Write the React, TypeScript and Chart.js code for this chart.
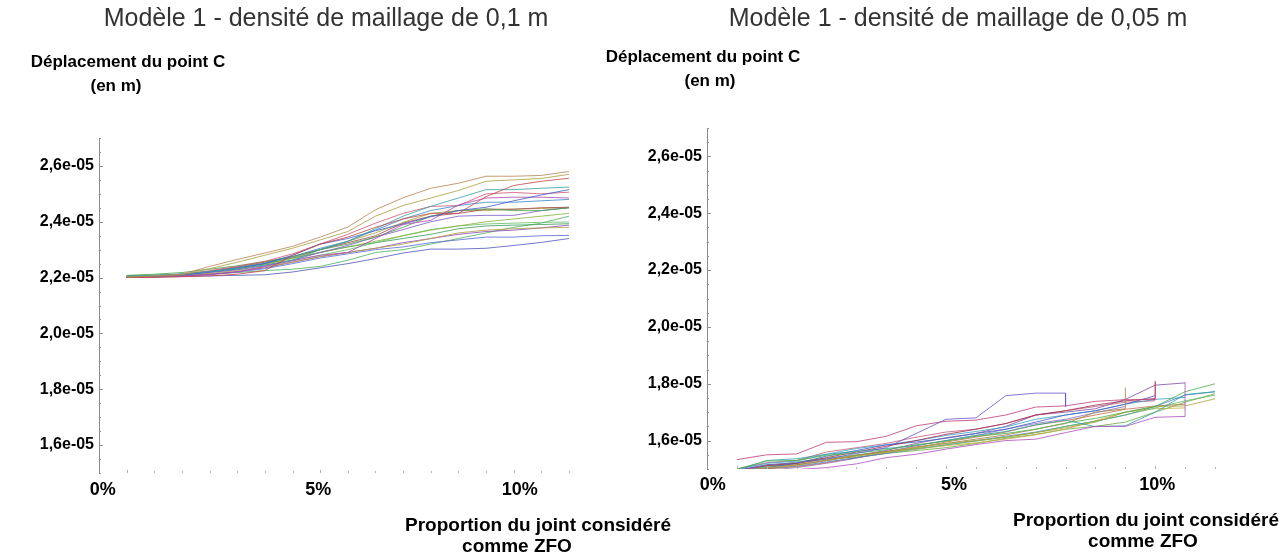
import React, { useEffect, useRef } from 'react';
import { Chart, registerables } from 'chart.js';

Chart.register(...registerables);

// ---------- shared axis data ----------
const X_PERCENT = [0, 0.714, 1.429, 2.143, 2.857, 3.571, 4.286, 5.0, 5.714, 6.429, 7.143, 7.857, 8.571, 9.286, 10.0, 10.714, 11.429];
const X_TICK_VALUES = [0, 5, 10];
const X_TICK_LABELS = ['0%', '5%', '10%'];
const Y_TICK_VALUES = [1.6e-5, 1.8e-5, 2.0e-5, 2.2e-5, 2.4e-5, 2.6e-5];
const Y_TICK_LABELS = ['1,6e-05', '1,8e-05', '2,0e-05', '2,2e-05', '2,4e-05', '2,6e-05'];
const UNIT = 1e-5; // series values below are expressed in units of 1e-5 m

const TITLE_LEFT = 'Modèle 1 - densité de maillage de 0,1 m';
const TITLE_RIGHT = 'Modèle 1 - densité de maillage de 0,05 m';
const Y_TITLE = ['Déplacement du point C', '(en m)'];
const X_TITLE = ['Proportion du joint considéré', 'comme ZFO'];

// ---------- left chart: mesh 0.1 m ----------
const L01 = [2.202, 2.206, 2.212, 2.240, 2.265, 2.288, 2.312, 2.345, 2.381, 2.443, 2.486, 2.520, 2.538, 2.563, 2.563, 2.566, 2.580];
const L02 = [2.202, 2.205, 2.210, 2.232, 2.255, 2.280, 2.305, 2.335, 2.365, 2.420, 2.458, 2.485, 2.512, 2.545, 2.550, 2.555, 2.570];
const L03 = [2.200, 2.201, 2.203, 2.206, 2.212, 2.225, 2.280, 2.320, 2.345, 2.380, 2.410, 2.430, 2.430, 2.490, 2.530, 2.545, 2.556];
const L04 = [2.205, 2.208, 2.212, 2.222, 2.232, 2.245, 2.262, 2.300, 2.330, 2.375, 2.420, 2.455, 2.485, 2.515, 2.515, 2.520, 2.524];
const L05 = [2.203, 2.205, 2.210, 2.220, 2.232, 2.250, 2.280, 2.320, 2.340, 2.368, 2.392, 2.418, 2.440, 2.452, 2.475, 2.496, 2.515];
const L06 = [2.201, 2.203, 2.205, 2.210, 2.220, 2.240, 2.260, 2.280, 2.290, 2.340, 2.390, 2.405, 2.460, 2.485, 2.488, 2.488, 2.485];
const L07 = [2.202, 2.204, 2.210, 2.225, 2.240, 2.258, 2.285, 2.320, 2.355, 2.395, 2.430, 2.455, 2.458, 2.500, 2.505, 2.500, 2.506];
const L08 = [2.204, 2.207, 2.213, 2.222, 2.235, 2.252, 2.275, 2.305, 2.330, 2.370, 2.410, 2.440, 2.458, 2.470, 2.470, 2.475, 2.480];
const L09 = [2.208, 2.212, 2.218, 2.230, 2.242, 2.258, 2.275, 2.300, 2.320, 2.345, 2.380, 2.420, 2.440, 2.446, 2.440, 2.440, 2.450];
const L10 = [2.202, 2.204, 2.208, 2.218, 2.228, 2.242, 2.262, 2.290, 2.315, 2.345, 2.372, 2.400, 2.420, 2.423, 2.423, 2.440, 2.450];
const L11 = [2.204, 2.206, 2.210, 2.220, 2.232, 2.248, 2.268, 2.290, 2.310, 2.330, 2.350, 2.370, 2.385, 2.400, 2.410, 2.420, 2.430];
const L12 = [2.206, 2.208, 2.212, 2.220, 2.230, 2.245, 2.262, 2.280, 2.300, 2.325, 2.350, 2.372, 2.385, 2.392, 2.395, 2.398, 2.399];
const L13 = [2.205, 2.208, 2.212, 2.222, 2.235, 2.250, 2.270, 2.290, 2.310, 2.325, 2.340, 2.355, 2.375, 2.385, 2.388, 2.390, 2.393];
const L14 = [2.202, 2.204, 2.208, 2.215, 2.225, 2.238, 2.255, 2.275, 2.290, 2.305, 2.320, 2.340, 2.360, 2.370, 2.375, 2.378, 2.380];
const L15 = [2.201, 2.203, 2.206, 2.212, 2.222, 2.235, 2.255, 2.275, 2.290, 2.305, 2.325, 2.340, 2.355, 2.365, 2.370, 2.378, 2.388];
const L16 = [2.203, 2.205, 2.207, 2.212, 2.220, 2.232, 2.250, 2.270, 2.285, 2.300, 2.310, 2.325, 2.335, 2.345, 2.345, 2.350, 2.351];
const L17 = [2.201, 2.202, 2.204, 2.206, 2.208, 2.210, 2.220, 2.235, 2.250, 2.268, 2.288, 2.302, 2.302, 2.305, 2.315, 2.326, 2.340];
const L18 = [2.203, 2.205, 2.208, 2.212, 2.218, 2.225, 2.230, 2.240, 2.262, 2.290, 2.300, 2.320, 2.340, 2.360, 2.380, 2.395, 2.420];
const L19 = [2.200, 2.202, 2.206, 2.222, 2.238, 2.255, 2.275, 2.300, 2.325, 2.350, 2.395, 2.420, 2.430, 2.445, 2.445, 2.450, 2.452];
const L20 = [2.203, 2.205, 2.209, 2.220, 2.235, 2.250, 2.270, 2.300, 2.330, 2.360, 2.398, 2.430, 2.440, 2.440, 2.445, 2.448, 2.450];

const LEFT_SERIES = [L01, L02, L03, L04, L05, L06, L07, L08, L09, L10, L11, L12, L13, L14, L15, L16, L17, L18, L19, L20];
const LEFT_JUMPS: (number | null)[] = LEFT_SERIES.map(() => null);
const LEFT_COLORS = ['#b8865a', '#a8a040', '#c04848', '#3aa0a0', '#4a5cc8', '#b048b0', '#d05878', '#3a8cc8', '#4aa04a', '#7a5cc8',
  '#88b040', '#66c066', '#3c9c5c', '#b0a048', '#9048b0', '#5a6cd0', '#5458c0', '#50b060', '#a04848', '#a0a040'];

// ---------- right chart: mesh 0.05 m ----------
const R01 = [1.495, 1.515, 1.522, 1.535, 1.555, 1.575, 1.625, 1.675, 1.680, 1.758, 1.767, 1.767];
const R02 = [1.533, 1.550, 1.553, 1.594, 1.596, 1.615, 1.652, 1.668, 1.672, 1.690, 1.718, 1.722, 1.738, 1.744, 1.744];
const R03 = [1.480, 1.490, 1.498, 1.505, 1.518, 1.540, 1.552, 1.570, 1.586, 1.600, 1.605, 1.628, 1.650, 1.650, 1.682, 1.685];
const R04 = [1.500, 1.528, 1.530, 1.548, 1.556, 1.568, 1.585, 1.598, 1.615, 1.625, 1.640, 1.662, 1.678, 1.700, 1.720, 1.772, 1.800];
const R05 = [1.496, 1.530, 1.536, 1.552, 1.562, 1.572, 1.583, 1.600, 1.618, 1.632, 1.655, 1.672, 1.649, 1.652, 1.700, 1.762, 1.772];
const R06 = [1.490, 1.505, 1.512, 1.530, 1.545, 1.560, 1.575, 1.590, 1.600, 1.612, 1.628, 1.645, 1.665, 1.700, 1.720, 1.722, 1.747];
const R07 = [1.488, 1.500, 1.515, 1.530, 1.548, 1.562, 1.578, 1.590, 1.605, 1.620, 1.640, 1.660, 1.700, 1.712];
const R08 = [1.495, 1.512, 1.520, 1.540, 1.560, 1.580, 1.600, 1.622, 1.640, 1.660, 1.690, 1.705, 1.725, 1.740, 1.748];
const R09 = [1.492, 1.505, 1.520, 1.545, 1.565, 1.585, 1.595, 1.608, 1.625, 1.640, 1.665, 1.690, 1.705, 1.728, 1.758];
const R10 = [1.498, 1.520, 1.528, 1.552, 1.572, 1.585, 1.600, 1.618, 1.632, 1.648, 1.675, 1.690, 1.705, 1.728, 1.745, 1.752];
const R11 = [1.485, 1.510, 1.525, 1.538, 1.550, 1.560, 1.572, 1.585, 1.598, 1.612, 1.628, 1.650, 1.668, 1.690, 1.715, 1.740, 1.760];
const R12 = [1.490, 1.505, 1.518, 1.535, 1.548, 1.558, 1.570, 1.582, 1.592, 1.605, 1.620, 1.640, 1.670, 1.700, 1.712, 1.715];
const R13 = [1.500, 1.522, 1.530, 1.560, 1.575, 1.590, 1.612, 1.630, 1.640, 1.660, 1.690, 1.705, 1.720, 1.735, 1.740];
const R14 = [1.492, 1.510, 1.515, 1.530, 1.548, 1.565, 1.590, 1.610, 1.625, 1.650, 1.690, 1.700, 1.712, 1.745, 1.795, 1.803];
const R15 = [1.490, 1.502, 1.510, 1.525, 1.540, 1.555, 1.570, 1.585, 1.600, 1.615, 1.630, 1.650, 1.668, 1.690, 1.720, 1.760, 1.772];
const R16 = [1.495, 1.515, 1.520, 1.535, 1.542, 1.555, 1.565, 1.575, 1.590, 1.608, 1.622, 1.640, 1.650, 1.665, 1.700, 1.735, 1.765];
const R17 = [1.485, 1.500, 1.508, 1.522, 1.540, 1.555, 1.575, 1.595, 1.612, 1.630, 1.655, 1.670, 1.690, 1.710, 1.722, 1.728];
const R18 = [1.480, 1.495, 1.505, 1.520, 1.538, 1.560, 1.582, 1.600, 1.618, 1.640, 1.660, 1.675, 1.698, 1.720];

const RIGHT_SERIES = [R01, R02, R03, R04, R05, R06, R07, R08, R09, R10, R11, R12, R13, R14, R15, R16, R17, R18];
// value reached by a vertical step at the last x of each series (null = none)
const RIGHT_JUMPS: (number | null)[] = [1.720, 1.805, 1.805, null, null, null, 1.786, 1.810, null, null, null, null, null, null, null, null, null, null];
const RIGHT_COLORS = ['#6a5acd', '#c0407a', '#b050c0', '#50b050', '#30a0a0', '#b0a040', '#a08040', '#a03050', '#4060c0', '#40a0c0',
  '#60b860', '#c0b040', '#c06080', '#8050a0', '#5080d0', '#70a840', '#c07050', '#9070c0'];

const FONT = '"Liberation Sans", Arial, Helvetica, sans-serif';

const axisDecor = {
  id: 'axisDecor',
  afterDraw(chart: any, _args: any, opts: any) {
    const { ctx, chartArea, scales } = chart;
    const xs = scales.x;
    const ys = scales.y;
    ctx.save();
    ctx.lineWidth = 1;
    ctx.strokeStyle = '#8c8c8c';
    ys.ticks.forEach((t: any) => {
      const py = Math.round(ys.getPixelForValue(t.value)) + 0.5;
      const major = t.label !== '';
      ctx.beginPath();
      ctx.moveTo(chartArea.left, py);
      ctx.lineTo(chartArea.left + (major ? 4 : 2), py);
      ctx.stroke();
    });
    ctx.strokeStyle = '#b4b4b4';
    X_PERCENT.forEach((v) => {
      const px = Math.round(xs.getPixelForValue(v)) + 0.5;
      const major = X_TICK_VALUES.includes(v);
      ctx.beginPath();
      ctx.moveTo(px, chartArea.bottom);
      ctx.lineTo(px, chartArea.bottom - (major ? 3 : 2));
      ctx.stroke();
    });
    ctx.fillStyle = '#000';
    ctx.font = `bold 18px ${FONT}`;
    ctx.textAlign = 'center';
    ctx.textBaseline = 'middle';
    X_TICK_VALUES.forEach((v, i) => {
      ctx.fillText(X_TICK_LABELS[i], xs.getPixelForValue(v) + opts.labelShift[i], chartArea.bottom + opts.labelDy);
    });
    ctx.restore();
  },
};

function buildDatasets(series: number[][], jumps: (number | null)[], colors: string[]) {
  return series.map((s, k) => {
    const pts = s.map((v, i) => ({ x: X_PERCENT[i], y: v * UNIT }));
    const j = jumps[k];
    if (j !== null && j !== undefined) pts.push({ x: X_PERCENT[s.length - 1], y: j * UNIT });
    return {
      data: pts,
      borderColor: colors[k % colors.length] + 'd0',
      backgroundColor: 'transparent',
      borderWidth: 1,
      pointRadius: 0,
      tension: 0,
      fill: false,
    };
  });
}

const MINOR_STEP = 0.05; // in units of 1e-5
function yTickLabel(value: number) {
  const idx = Y_TICK_VALUES.findIndex((t) => Math.abs(t - value) < 1e-10);
  return idx >= 0 ? Y_TICK_LABELS[idx] : '';
}

type PanelProps = {
  series: number[][];
  jumps: (number | null)[];
  colors: string[];
  left: number;
  width: number;
  padTop: number;
  padRight: number;
  yAxisWidth: number;
  xAxisHeight: number;
  labelShift: number[];
  labelDy: number;
};

function Panel(p: PanelProps) {
  const ref = useRef<HTMLCanvasElement | null>(null);
  useEffect(() => {
    if (!ref.current) return;
    const chart = new Chart(ref.current, {
      type: 'line',
      data: { datasets: buildDatasets(p.series, p.jumps, p.colors) as any },
      plugins: [axisDecor],
      options: {
        animation: false,
        responsive: false,
        devicePixelRatio: 1,
        events: [],
        layout: { padding: { top: p.padTop, right: p.padRight, left: 0, bottom: 0 } },
        plugins: {
          legend: { display: false },
          tooltip: { enabled: false },
          title: { display: false },
          axisDecor: { labelShift: p.labelShift, labelDy: p.labelDy },
        } as any,
        scales: {
          x: {
            type: 'linear',
            min: -X_PERCENT[1],
            max: X_PERCENT[X_PERCENT.length - 1],
            grid: { display: false, drawTicks: false },
            border: { display: false },
            ticks: { display: false },
            afterFit: (s: any) => { s.height = p.xAxisHeight; },
          },
          y: {
            type: 'linear',
            min: 1.5 * UNIT,
            max: 2.7 * UNIT,
            grid: { display: false, drawTicks: false },
            border: { display: true, color: '#8c8c8c', width: 1 },
            ticks: {
              autoSkip: false,
              padding: 5,
              color: '#000',
              font: { family: FONT, size: 16, weight: 'bold' },
              callback: (v: any) => yTickLabel(Number(v)),
            },
            afterBuildTicks: (s: any) => {
              const ticks = [];
              for (let k = 0; k <= 24; k++) ticks.push({ value: (1.5 + k * MINOR_STEP) * UNIT });
              s.ticks = ticks;
            },
            afterFit: (s: any) => { s.width = p.yAxisWidth; },
          },
        },
      } as any,
    });
    return () => chart.destroy();
  }, []);
  return (
    <canvas
      ref={ref}
      width={p.width}
      height={559}
      style={{ position: 'absolute', left: p.left, top: 0, width: p.width, height: 559 }}
    />
  );
}

const textBase: React.CSSProperties = {
  position: 'absolute',
  fontFamily: FONT,
  color: '#000',
  whiteSpace: 'nowrap',
  transform: 'translateX(-50%)',
  textAlign: 'center',
};
const boldLine = (size: number): React.CSSProperties => ({ ...textBase, fontSize: size, fontWeight: 'bold', lineHeight: '20px' });

export default function App() {
  return (
    <div style={{ position: 'absolute', left: 0, top: 0, width: 1288, height: 559, overflow: 'hidden', background: '#fff' }}>
      <Panel series={LEFT_SERIES} jumps={LEFT_JUMPS} colors={LEFT_COLORS} left={0} width={600}
        padTop={138} padRight={31} yAxisWidth={99} xAxisHeight={86} labelShift={[-24, -2, 6]} labelDy={17} />
      <Panel series={RIGHT_SERIES} jumps={RIGHT_JUMPS} colors={RIGHT_COLORS} left={600} width={688}
        padTop={128} padRight={73} yAxisWidth={107} xAxisHeight={90} labelShift={[-24, 8, 2]} labelDy={16} />

      <div style={{ ...textBase, left: 326, top: 4, fontSize: 25, lineHeight: '27px', color: '#333' }}>{TITLE_LEFT}</div>
      <div style={{ ...textBase, left: 958, top: 4, fontSize: 25, lineHeight: '27px', color: '#333' }}>{TITLE_RIGHT}</div>

      <div style={{ ...boldLine(17), left: 128, top: 52 }}>{Y_TITLE[0]}</div>
      <div style={{ ...boldLine(17), left: 116, top: 76 }}>{Y_TITLE[1]}</div>
      <div style={{ ...boldLine(17), left: 703, top: 47 }}>{Y_TITLE[0]}</div>
      <div style={{ ...boldLine(17), left: 710, top: 71 }}>{Y_TITLE[1]}</div>

      <div style={{ ...boldLine(19), left: 538, top: 515 }}>{X_TITLE[0]}</div>
      <div style={{ ...boldLine(19), left: 517, top: 536 }}>{X_TITLE[1]}</div>
      <div style={{ ...boldLine(19), left: 1146, top: 510 }}>{X_TITLE[0]}</div>
      <div style={{ ...boldLine(19), left: 1143, top: 531 }}>{X_TITLE[1]}</div>
    </div>
  );
}
